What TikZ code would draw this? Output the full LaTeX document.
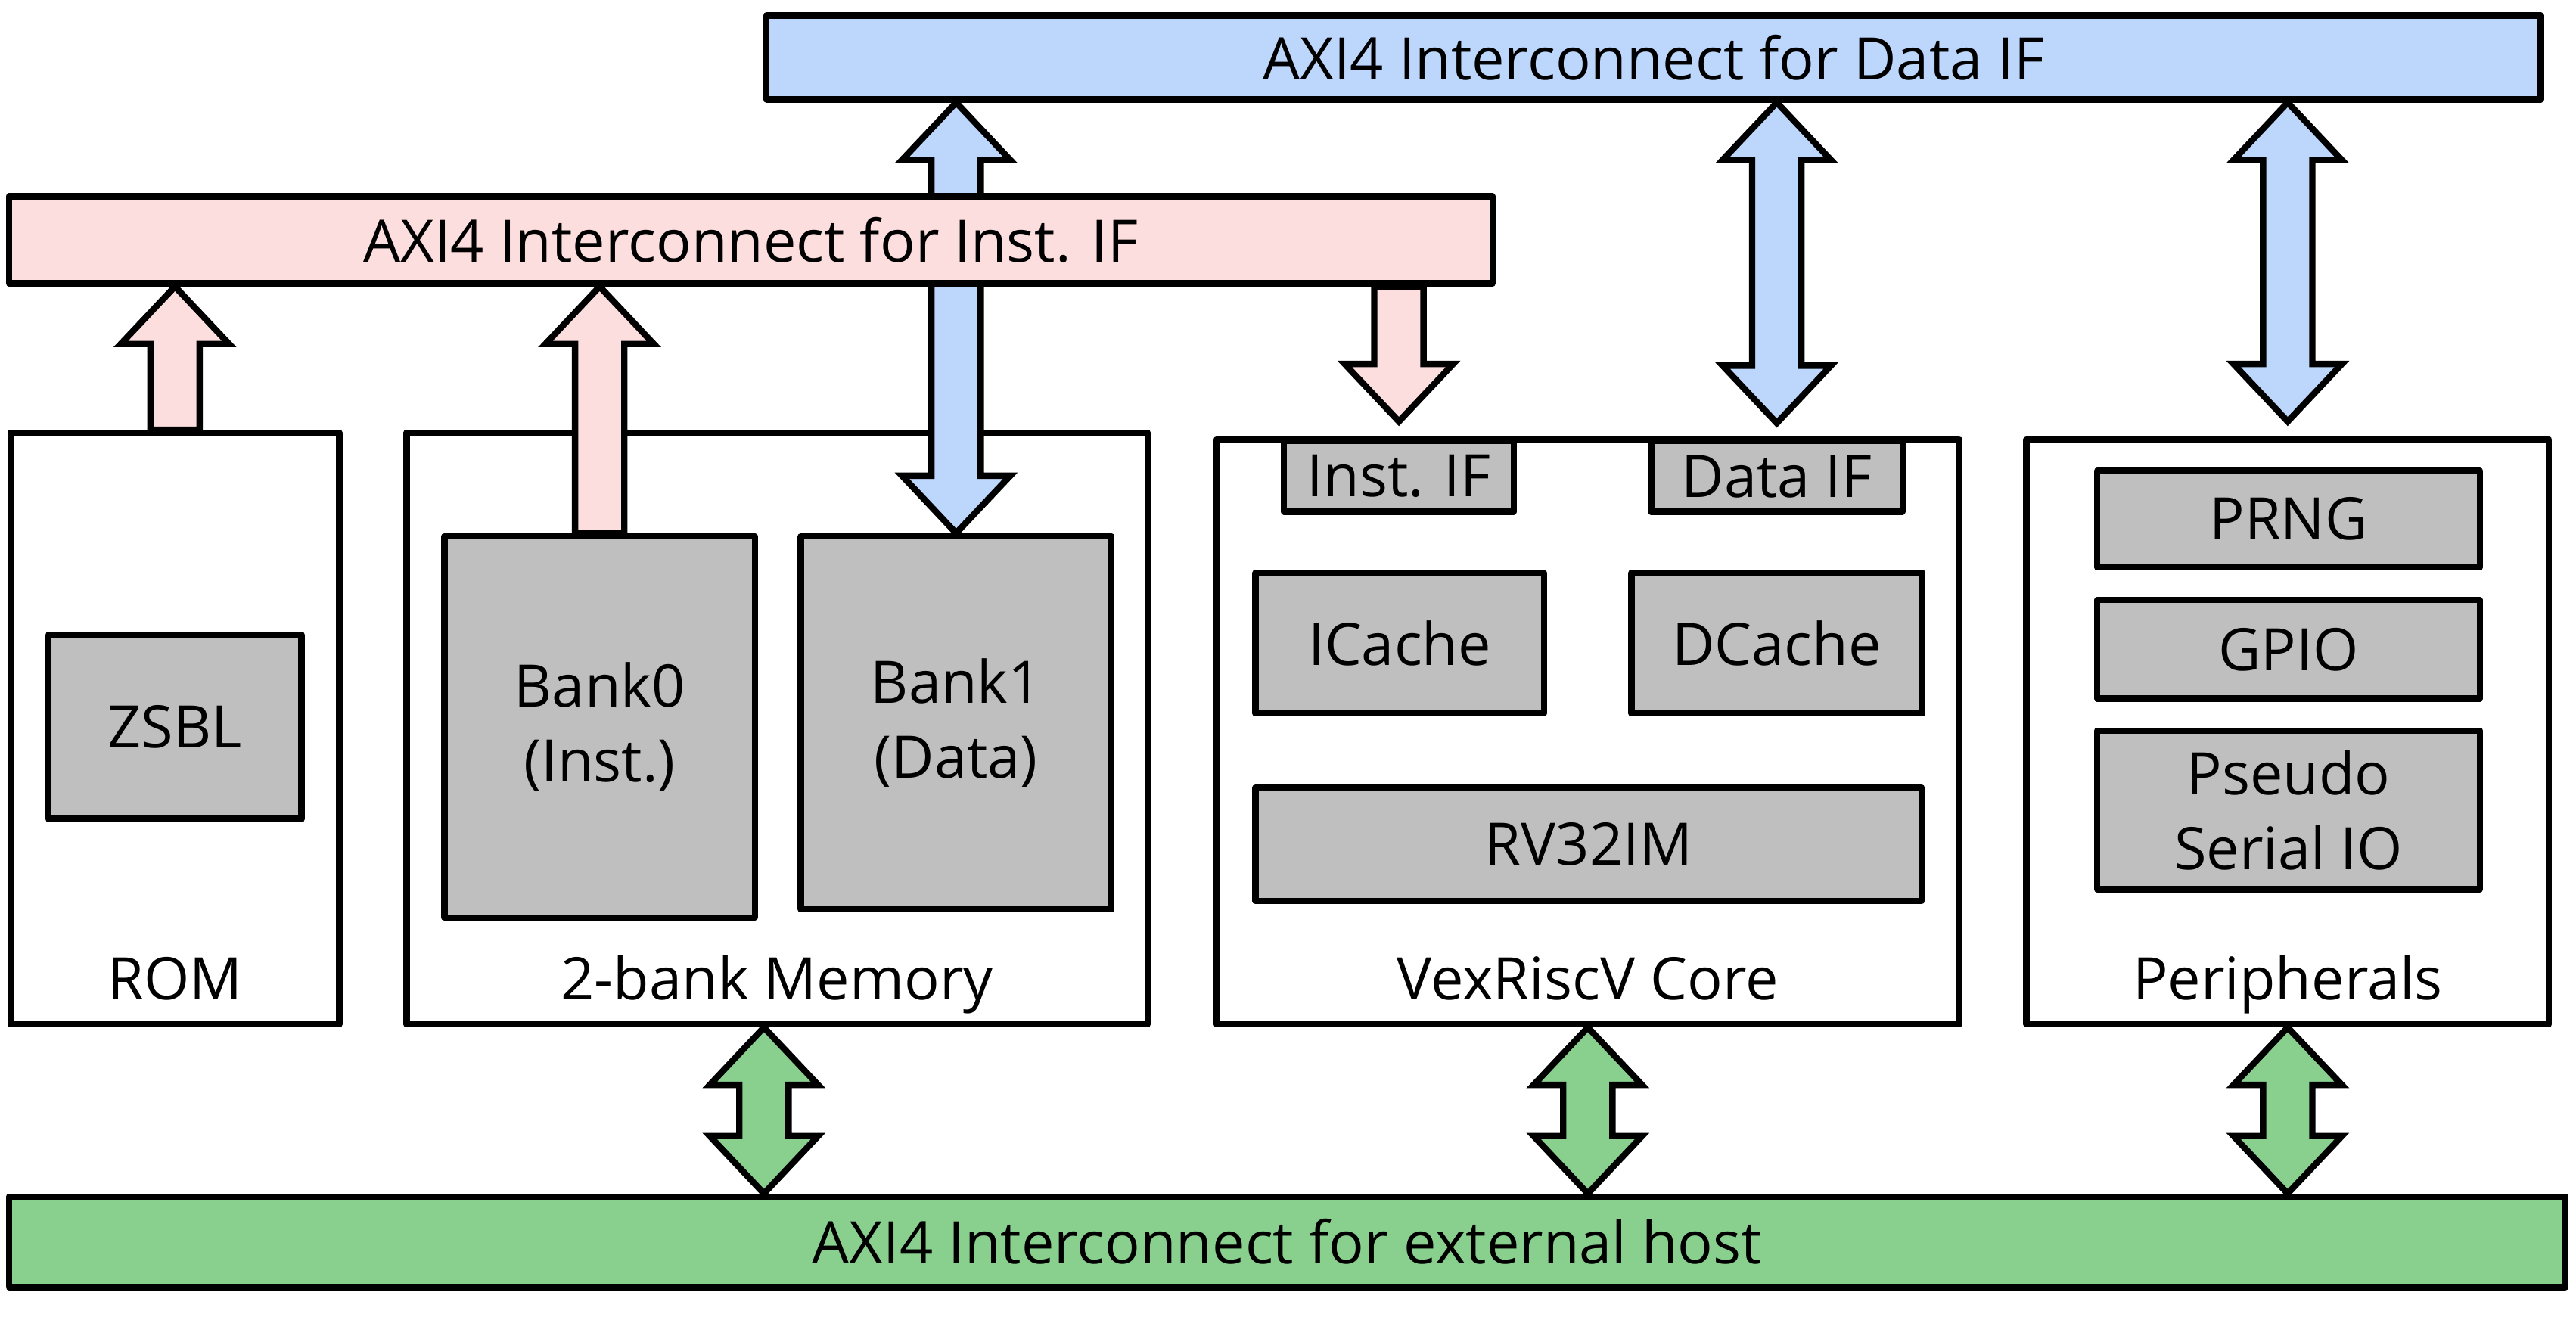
\documentclass[tikz,border=0pt]{standalone}
\usepackage{fontspec}
\setmainfont{Open Sans}
\usepackage{xcolor}
\usepackage{tikz}
\usetikzlibrary{calc}

\definecolor{dataBlue}{RGB}{189,214,252}
\definecolor{instPink}{RGB}{253,222,222}
\definecolor{hostGreen}{RGB}{137,208,143}
\definecolor{unitGray}{RGB}{191,191,191}

\pgfdeclarelayer{front}
\pgfsetlayers{main,front}

% sizes of the fat arrows
\newcommand{\shaftw}{0.30cm}
\newcommand{\headw}{0.66cm}
\newcommand{\headl}{0.70cm}

% fat arrow with one head: style, tail, tip
\newcommand{\fatarrow}[3]{%
  \draw[#1] let \p1=(#2), \p2=(#3), \p3=($(#3)!\headl!(#2)$) in
    (\x1-\shaftw,\y1) -- (\x1-\shaftw,\y3) -- (\x1-\headw,\y3) -- (\x2,\y2)
    -- (\x1+\headw,\y3) -- (\x1+\shaftw,\y3) -- (\x1+\shaftw,\y1) -- cycle;}

% fat arrow with two heads
\newcommand{\fatboth}[3]{%
  \draw[#1] let \p1=(#2), \p2=(#3), \p3=($(#3)!\headl!(#2)$), \p4=($(#2)!\headl!(#3)$) in
    (\x1,\y1) -- (\x1-\headw,\y4) -- (\x1-\shaftw,\y4) -- (\x1-\shaftw,\y3)
    -- (\x1-\headw,\y3) -- (\x2,\y2) -- (\x1+\headw,\y3) -- (\x1+\shaftw,\y3)
    -- (\x1+\shaftw,\y4) -- (\x1+\headw,\y4) -- cycle;}

\begin{document}
\begin{tikzpicture}[
    font=\fontsize{20.3}{26}\selectfont,
    box/.style={draw, line width=2.2pt, line join=round, fill=white, inner sep=0pt},
    unit/.style={box, fill=unitGray, align=center},
    bus/.style={draw, line width=2.2pt, line join=round, inner sep=0pt},
    label/.style={anchor=base},
    instarrow/.style={line width=2.2pt, fill=instPink},
    dataarrow/.style={line width=2.2pt, fill=dataBlue},
    hostarrow/.style={line width=2.2pt, fill=hostGreen}]

        \useasboundingbox (0,0) rectangle (31.36,16.034);

        % The buses
        \begin{pgfonlayer}{front}
        \node[bus, fill=dataBlue, minimum width=21.60cm, minimum height=1.02cm] (dbus) at (20.13,15.334) {AXI4 Interconnect for Data IF};
        \node[bus, fill=instPink, minimum width=18.06cm, minimum height=1.06cm] (ibus) at (9.14,13.114) {AXI4 Interconnect for Inst. IF};
        \node[bus, fill=hostGreen, minimum width=31.12cm, minimum height=1.10cm] (ebus) at (15.67,0.914) {AXI4 Interconnect for external host};
        \end{pgfonlayer}

        % The big boxes
        \node[box, minimum width=4.00cm, minimum height=7.20cm] (rom) at (2.13,7.164) {};
        \node[box, minimum width=9.02cm, minimum height=7.20cm] (mem) at (9.46,7.164) {};
        \node[box, minimum width=9.04cm, minimum height=7.12cm] (core) at (19.33,7.124) {};
        \node[box, minimum width=6.36cm, minimum height=7.12cm] (periph) at (27.85,7.124) {};

        % The words in the big boxes
        \node[label] (romlbl) at ([yshift=0.34cm]rom.south) {ROM};
        \node[label] (memlbl) at ([yshift=0.34cm]mem.south) {2-bank Memory};
        \node[label] (corelbl) at ([yshift=0.34cm]core.south) {VexRiscV Core};
        \node[label] (periphlbl) at ([yshift=0.34cm]periph.south) {Peripherals};

        % The grey boxes
        \node[unit, minimum width=3.08cm, minimum height=2.24cm] (zsbl) at (2.13,7.184) {ZSBL};
        \node[unit, minimum width=3.78cm, minimum height=4.64cm] (bank0) at (7.30,7.184) {Bank0\\(Inst.)};
        \node[unit, minimum width=3.78cm, minimum height=4.54cm] (bank1) at (11.64,7.234) {Bank1\\(Data)};

        \node[unit, minimum width=2.80cm, minimum height=0.86cm] (instif) at (17.03,10.234) {Inst. IF};
        \node[unit, minimum width=3.06cm, minimum height=0.86cm] (dataif) at (21.63,10.234) {Data IF};
        \node[unit, minimum width=3.51cm, minimum height=1.71cm] (icache) at (17.04,8.202) {ICache};
        \node[unit, minimum width=3.54cm, minimum height=1.71cm] (dcache) at (21.63,8.202) {DCache};
        \node[unit, minimum width=8.11cm, minimum height=1.38cm] (rv32) at (19.34,5.754) {RV32IM};

        \node[unit, minimum width=4.66cm, minimum height=1.17cm] (prng) at (27.86,9.714) {PRNG};
        \node[unit, minimum width=4.66cm, minimum height=1.20cm] (gpio) at (27.86,8.128) {GPIO};
        \node[unit, minimum width=4.66cm, minimum height=1.93cm] (pseudo) at (27.86,6.174) {Pseudo\\Serial IO};

        % The instruction arrows
        \fatarrow{instarrow}{rom.north}{rom.north |- ibus.south}
        \fatarrow{instarrow}{bank0.north}{bank0.north |- ibus.south}
        \coordinate (itip) at ([yshift=0.2cm]instif.north);
        \fatarrow{instarrow}{instif.north |- ibus.south}{itip}

        % The data arrows
        \fatboth{dataarrow}{bank1.north}{bank1.north |- dbus.south}
        \coordinate (dtip) at ([yshift=0.18cm]dataif.north);
        \fatboth{dataarrow}{dtip}{dataif.north |- dbus.south}
        \coordinate (ptip) at ([yshift=0.18cm]periph.north);
        \fatboth{dataarrow}{ptip}{periph.north |- dbus.south}

        % The host arrows
        \coordinate (mbot) at ([xshift=-0.16cm]mem.south);
        \fatboth{hostarrow}{mbot}{mbot |- ebus.north}
        \fatboth{hostarrow}{core.south}{core.south |- ebus.north}
        \fatboth{hostarrow}{periph.south}{periph.south |- ebus.north}

    \end{tikzpicture}
\end{document}
